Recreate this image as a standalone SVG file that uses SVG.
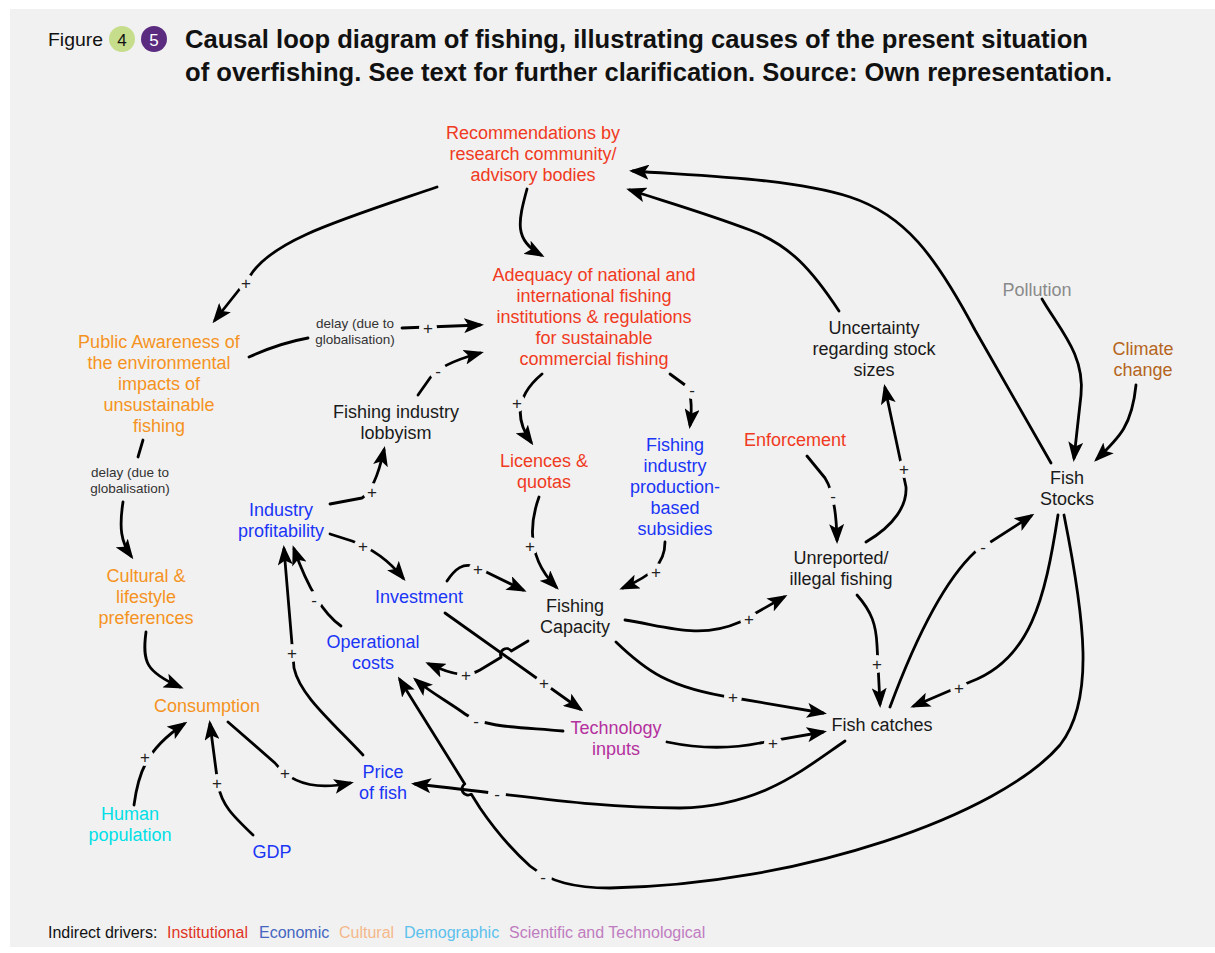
<svg xmlns="http://www.w3.org/2000/svg" width="1215" height="953" viewBox="0 0 1215 953">
<defs>
<style>
.n{font-family:"Liberation Sans",Arial,Helvetica,sans-serif;font-size:18px;text-anchor:middle}
.red{fill:#f03a22}.org{fill:#f5931e}.blu{fill:#1a35f5}.blk{fill:#1a1a1a}.gry{fill:#8a8a8a}.brn{fill:#b5651d}.mag{fill:#b4309e}.cyn{fill:#00dfe6}
.c{fill:none;stroke:#000;stroke-width:2.8;stroke-linecap:round;stroke-linejoin:round}
.a{marker-end:url(#ah)}
.bg{fill:#f1f1f1;stroke:none}
.s{font-family:"Liberation Sans",Arial,sans-serif;font-size:17px;fill:#222222;text-anchor:middle}
.d{font-family:"Liberation Sans",Arial,sans-serif;font-size:13.5px;fill:#333;text-anchor:middle}
.lg{font-family:"Liberation Sans",Arial,sans-serif;font-size:16px}
</style>
<marker id="ah" viewBox="0 0 20 15" refX="16" refY="7.5" markerWidth="20" markerHeight="15" markerUnits="userSpaceOnUse" orient="auto"><path d="M0,0 L20,7.5 L0,15 L4.5,7.5 z" fill="#000"/></marker>
</defs>
<rect x="0" y="0" width="1215" height="953" fill="#ffffff"/>
<rect x="10" y="9" width="1205" height="938" fill="#f1f1f1"/>

<g id="title">
<text x="48" y="46" font-family="Liberation Sans,Arial,sans-serif" font-size="19" fill="#111" textLength="55" lengthAdjust="spacingAndGlyphs">Figure</text>
<circle cx="122" cy="39" r="13" fill="#c6de8c"/>
<text x="122" y="45.5" font-family="Liberation Sans,Arial,sans-serif" font-size="17" fill="#111" text-anchor="middle">4</text>
<circle cx="154" cy="39" r="13" fill="#5b2b80"/>
<text x="154" y="45.5" font-family="Liberation Sans,Arial,sans-serif" font-size="17" fill="#fff" text-anchor="middle">5</text>
<text x="185" y="48" font-family="Liberation Sans,Arial,sans-serif" font-size="25" font-weight="bold" fill="#111" textLength="903" lengthAdjust="spacingAndGlyphs">Causal loop diagram of fishing, illustrating causes of the present situation</text>
<text x="185" y="81" font-family="Liberation Sans,Arial,sans-serif" font-size="25" font-weight="bold" fill="#111" textLength="927" lengthAdjust="spacingAndGlyphs">of overfishing. See text for further clarification. Source: Own representation.</text>
</g>

<g id="connectors">
<path class="c a" d="M437,187 C340,220 272,240 250,276 L215,320"/>
<path class="c a" d="M527,189 C518,222 514,240 541,255"/>
<path class="c" d="M249,357 Q280,343 308,338"/>
<path class="c a" d="M402,328 L480,325"/>
<path class="c" d="M143,440 L138,457"/>
<path class="c a" d="M123,502 C119,528 121,542 131,556"/>
<path class="c a" d="M146,632 C142,662 146,672 180,687"/>
<path class="c a" d="M134,805 C138,775 145,750 184,724"/>
<path class="c a" d="M253,835 C232,815 222,805 218,785 L210,724"/>
<path class="c a" d="M228,722 L275,763 C292,785 318,790 350,783"/>
<path class="c a" d="M363,755 C330,720 300,695 294,668 L284,549"/>
<path class="c a" d="M341,626 Q315,608 294,549"/>
<path class="c a" d="M330,504 L362,498 Q375,490 384,450"/>
<path class="c a" d="M418,395 L430,378 Q440,364 480,353"/>
<path class="c a" d="M542,374 Q505,405 531,442"/>
<path class="c a" d="M670,374 L685,385 Q694,395 690,425"/>
<path class="c a" d="M539,497 Q520,550 556,587"/>
<path class="c a" d="M665,542 C665,565 650,576 623,588"/>
<path class="c a" d="M330,534 L352,541 Q382,552 403,578"/>
<path class="c a" d="M447,581 C455,569 463,562 476,567 L523,590"/>
<path class="c a" d="M445,613 L580,709"/>
<path class="c a" d="M528,641 L511.3,651 A6,6 0 0 0 501.1,657.2 L480,670 C468,677 455,676 429,664"/>
<path class="c a" d="M563,731 C520,727 485,728 465,714 C450,703 430,692 416,680"/>
<path class="c a" d="M667,742 Q715,752 760,743 L823,732"/>
<path class="c a" d="M616,642 C645,670 668,688 735,698 L823,713"/>
<path class="c a" d="M625,620 C665,626 700,640 740,622 L784,597"/>
<path class="c a" d="M807,456 L825,478 Q836,495 837,540"/>
<path class="c a" d="M866,542 C895,525 907,505 906,487 L885,388"/>
<path class="c a" d="M839,311 C812,270 790,245 750,230 C705,213 670,203 630,190"/>
<path class="c a" d="M1051,463 L975,330 C935,255 905,215 850,197 C790,178 700,176 633,171"/>
<path class="c a" d="M1042,299 C1060,330 1085,355 1081,395 L1074,458"/>
<path class="c a" d="M1136,385 C1132,425 1120,437 1097,459"/>
<path class="c a" d="M1058,515 C1045,600 1030,660 970,682 L914,706"/>
<path class="c a" d="M890,707 C915,640 945,580 975,552 L1031,516"/>
<path class="c a" d="M857,595 C872,612 876,625 877,645 L880,704"/>
<path class="c a" d="M845,741 C800,772 760,806 680,808 C600,808 540,798 415,784"/>
<path class="c a" d="M1064,515 C1085,620 1095,700 1060,745 C1000,815 800,885 610,888 C575,888 550,882 530,866 C510,848 495,830 480,808 L471.2,794.1 A6,6 0 0 1 464.8,783.9 L400,680"/>

<g id="signs" fill="#222222">
<circle class="bg" cx="246" cy="283" r="9"/><text class="s" x="246" y="289">+</text>
<circle class="bg" cx="428" cy="328" r="9"/><text class="s" x="428" y="334">+</text>
<circle class="bg" cx="145" cy="757" r="9"/><text class="s" x="145" y="763">+</text>
<circle class="bg" cx="217" cy="783" r="9"/><text class="s" x="217" y="789">+</text>
<circle class="bg" cx="285" cy="773" r="9"/><text class="s" x="285" y="779">+</text>
<circle class="bg" cx="292" cy="653" r="9"/><text class="s" x="292" y="659">+</text>
<circle class="bg" cx="314" cy="600" r="9"/><text class="s" x="314" y="606">-</text>
<circle class="bg" cx="372" cy="492" r="9"/><text class="s" x="372" y="498">+</text>
<circle class="bg" cx="438" cy="371" r="9"/><text class="s" x="438" y="377">-</text>
<circle class="bg" cx="517" cy="403" r="9"/><text class="s" x="517" y="409">+</text>
<circle class="bg" cx="692" cy="390" r="9"/><text class="s" x="692" y="396">-</text>
<circle class="bg" cx="530" cy="546" r="9"/><text class="s" x="530" y="552">+</text>
<circle class="bg" cx="656" cy="572" r="9"/><text class="s" x="656" y="578">+</text>
<circle class="bg" cx="363" cy="546" r="9"/><text class="s" x="363" y="552">+</text>
<circle class="bg" cx="478" cy="569" r="9"/><text class="s" x="478" y="575">+</text>
<circle class="bg" cx="544" cy="683" r="9"/><text class="s" x="544" y="689">+</text>
<circle class="bg" cx="466" cy="675" r="9"/><text class="s" x="466" y="681">+</text>
<circle class="bg" cx="476" cy="721" r="9"/><text class="s" x="476" y="727">-</text>
<circle class="bg" cx="773" cy="743" r="9"/><text class="s" x="773" y="749">+</text>
<circle class="bg" cx="733" cy="697" r="9"/><text class="s" x="733" y="703">+</text>
<circle class="bg" cx="749" cy="619" r="9"/><text class="s" x="749" y="625">+</text>
<circle class="bg" cx="833" cy="496" r="9"/><text class="s" x="833" y="502">-</text>
<circle class="bg" cx="904" cy="469" r="9"/><text class="s" x="904" y="475">+</text>
<circle class="bg" cx="959" cy="688" r="9"/><text class="s" x="959" y="694">+</text>
<circle class="bg" cx="983" cy="547" r="9"/><text class="s" x="983" y="553">-</text>
<circle class="bg" cx="877" cy="664" r="9"/><text class="s" x="877" y="670">+</text>
<circle class="bg" cx="543" cy="877" r="9"/><text class="s" x="543" y="883">-</text>
<circle class="bg" cx="497" cy="794" r="9"/><text class="s" x="497" y="800">-</text>
</g>
<text class="d" x="355" y="328">delay (due to</text>
<text class="d" x="355" y="344">globalisation)</text>
<text class="d" x="130" y="477">delay (due to</text>
<text class="d" x="130" y="493">globalisation)</text>
</g>

<g id="recommendations"><text class="n red"><tspan x="533" y="139">Recommendations by</tspan><tspan x="533" y="160">research community/</tspan><tspan x="533" y="181">advisory bodies</tspan></text></g>
<g id="adequacy"><text class="n red"><tspan x="594" y="281">Adequacy of national and</tspan><tspan x="594" y="302">international fishing</tspan><tspan x="594" y="323">institutions &amp; regulations</tspan><tspan x="594" y="344">for sustainable</tspan><tspan x="594" y="365">commercial fishing</tspan></text></g>
<g id="public-awareness"><text class="n org"><tspan x="159" y="348">Public Awareness of</tspan><tspan x="159" y="369">the environmental</tspan><tspan x="159" y="390">impacts of</tspan><tspan x="159" y="411">unsustainable</tspan><tspan x="159" y="432">fishing</tspan></text></g>
<g id="lobbyism"><text class="n blk"><tspan x="396" y="418">Fishing industry</tspan><tspan x="396" y="439">lobbyism</tspan></text></g>
<g id="licences"><text class="n red"><tspan x="544" y="467">Licences &amp;</tspan><tspan x="544" y="488">quotas</tspan></text></g>
<g id="subsidies"><text class="n blu"><tspan x="675" y="451">Fishing</tspan><tspan x="675" y="472">industry</tspan><tspan x="675" y="493">production-</tspan><tspan x="675" y="514">based</tspan><tspan x="675" y="535">subsidies</tspan></text></g>
<g id="enforcement"><text class="n red" x="795" y="446">Enforcement</text></g>
<g id="uncertainty"><text class="n blk"><tspan x="874" y="334">Uncertainty</tspan><tspan x="874" y="355">regarding stock</tspan><tspan x="874" y="376">sizes</tspan></text></g>
<g id="pollution"><text class="n gry" x="1037" y="296">Pollution</text></g>
<g id="climate"><text class="n brn"><tspan x="1143" y="355">Climate</tspan><tspan x="1143" y="376">change</tspan></text></g>
<g id="fish-stocks"><text class="n blk"><tspan x="1067" y="484">Fish</tspan><tspan x="1067" y="505">Stocks</tspan></text></g>
<g id="profitability"><text class="n blu"><tspan x="281" y="516">Industry</tspan><tspan x="281" y="537">profitability</tspan></text></g>
<g id="investment"><text class="n blu" x="419" y="603">Investment</text></g>
<g id="capacity"><text class="n blk"><tspan x="575" y="612">Fishing</tspan><tspan x="575" y="633">Capacity</tspan></text></g>
<g id="unreported"><text class="n blk"><tspan x="841" y="564">Unreported/</tspan><tspan x="841" y="585">illegal fishing</tspan></text></g>
<g id="cultural"><text class="n org"><tspan x="146" y="582">Cultural &amp;</tspan><tspan x="146" y="603">lifestyle</tspan><tspan x="146" y="624">preferences</tspan></text></g>
<g id="operational-costs"><text class="n blu"><tspan x="373" y="648">Operational</tspan><tspan x="373" y="669">costs</tspan></text></g>
<g id="consumption"><text class="n org" x="207" y="712">Consumption</text></g>
<g id="technology"><text class="n mag"><tspan x="616" y="734">Technology</tspan><tspan x="616" y="755">inputs</tspan></text></g>
<g id="fish-catches"><text class="n blk" x="882" y="731">Fish catches</text></g>
<g id="price"><text class="n blu"><tspan x="383" y="778">Price</tspan><tspan x="383" y="799">of fish</tspan></text></g>
<g id="population"><text class="n cyn"><tspan x="130" y="820">Human</tspan><tspan x="130" y="841">population</tspan></text></g>
<g id="gdp"><text class="n blu" x="272" y="858">GDP</text></g>

<g id="legend">
<text class="lg" x="48" y="938" fill="#111">Indirect drivers:</text>
<text class="lg" x="167" y="938" fill="#e03426">Institutional</text>
<text class="lg" x="259" y="938" fill="#4466c0">Economic</text>
<text class="lg" x="339" y="938" fill="#f5b88a">Cultural</text>
<text class="lg" x="404" y="938" fill="#5cc0ec">Demographic</text>
<text class="lg" x="509" y="938" fill="#c07cc0">Scientific and Technological</text>
</g>
</svg>
